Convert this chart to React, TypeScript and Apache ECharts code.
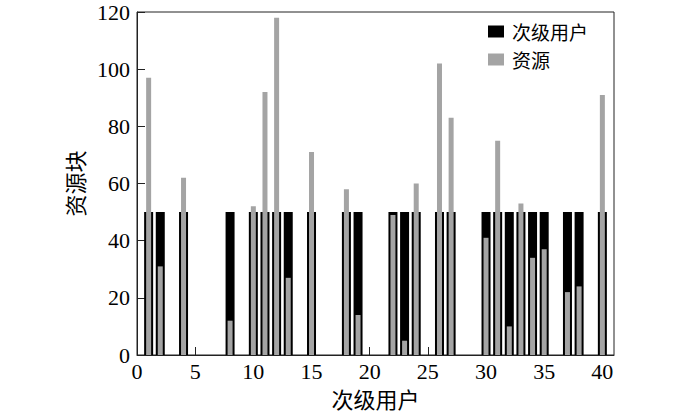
import React, { useEffect, useRef } from "react";
import * as echarts from "echarts";

// 次级用户 indices (x positions)
const users = [1, 2, 4, 8, 10, 11, 12, 13, 15, 18, 19, 22, 23, 24, 26, 27, 30, 31, 32, 33, 34, 35, 37, 38, 40];
// 次级用户 demand (all 50)
const demand = [50, 50, 50, 50, 50, 50, 50, 50, 50, 50, 50, 50, 50, 50, 50, 50, 50, 50, 50, 50, 50, 50, 50, 50, 50];
// 资源 values
const resources = [97, 31, 62, 12, 52, 92, 118, 27, 71, 58, 14, 49, 5, 60, 102, 83, 41, 75, 10, 53, 34, 37, 22, 24, 91];

const xTicks = [0, 5, 10, 15, 20, 25, 30, 35, 40];
const yTicks = [0, 20, 40, 60, 80, 100, 120];

const NUM_FONT = "'Liberation Serif', 'Times New Roman', serif";
const CJK_FONT = "'Noto Sans CJK SC', sans-serif";

export default function App() {
  const ref = useRef<HTMLDivElement>(null);
  useEffect(() => {
    if (!ref.current) return;
    const chart = echarts.init(ref.current, null, { renderer: "svg" });
    const xMin = xTicks[0];
    const xMax = 41;
    const xAxisBase = {
      type: "value",
      min: xMin,
      max: xMax,
      interval: xTicks[1] - xTicks[0],
      splitLine: { show: false },
    };
    chart.setOption({
      animation: false,
      backgroundColor: "#fff",
      grid: {
        left: 137,
        right: 86,
        top: 12,
        bottom: 60,
        show: true,
        borderColor: "#222",
        borderWidth: 1,
        backgroundColor: "transparent",
      },
      legend: {
        orient: "vertical",
        left: 488,
        top: 22,
        itemWidth: 16,
        itemHeight: 12,
        itemGap: 9,
        icon: "rect",
        padding: 0,
        textStyle: { fontFamily: CJK_FONT, fontSize: 19, lineHeight: 19, color: "#000", padding: [0, 0, 0, 3] },
        data: ["次级用户", "资源"],
      },
      xAxis: [
        {
          ...xAxisBase,
          name: "次级用户",
          nameLocation: "middle",
          nameGap: 31,
          nameTextStyle: { fontFamily: CJK_FONT, fontSize: 22, color: "#000" },
          axisLine: { show: true, lineStyle: { color: "#222", width: 1 } },
          axisTick: { show: true, inside: true, length: 8, lineStyle: { color: "#222" } },
          axisLabel: {
            show: true,
            margin: 5,
            fontFamily: NUM_FONT,
            fontSize: 22,
            color: "#000",
            showMaxLabel: false,
            formatter: (v: number) => (xTicks.includes(v) ? String(v) : ""),
          },
        },
        {
          ...xAxisBase,
          show: false,
        },
      ],
      yAxis: {
        type: "value",
        min: yTicks[0],
        max: yTicks[yTicks.length - 1],
        interval: yTicks[1] - yTicks[0],
        name: "资源块",
        nameLocation: "middle",
        nameGap: 52,
        nameTextStyle: { fontFamily: CJK_FONT, fontSize: 22, color: "#000" },
        splitLine: { show: false },
        axisLine: { show: true, lineStyle: { color: "#222", width: 1 } },
        axisTick: { show: true, inside: true, length: 8, lineStyle: { color: "#222" } },
        axisLabel: { margin: 7, fontFamily: NUM_FONT, fontSize: 22, color: "#000" },
      },
      series: [
        {
          name: "次级用户",
          type: "bar",
          xAxisIndex: 0,
          barWidth: 9,
          itemStyle: { color: "#000" },
          data: users.map((u, i) => [u, demand[i]]),
          z: 2,
        },
        {
          name: "资源",
          type: "bar",
          xAxisIndex: 1,
          barWidth: 5,
          itemStyle: { color: "#a4a4a4" },
          data: users.map((u, i) => [u, resources[i]]),
          z: 3,
        },
      ],
    });
    return () => chart.dispose();
  }, []);
  return <div ref={ref} style={{ width: 700, height: 415, position: "absolute", left: 0, top: 0 }} />;
}
